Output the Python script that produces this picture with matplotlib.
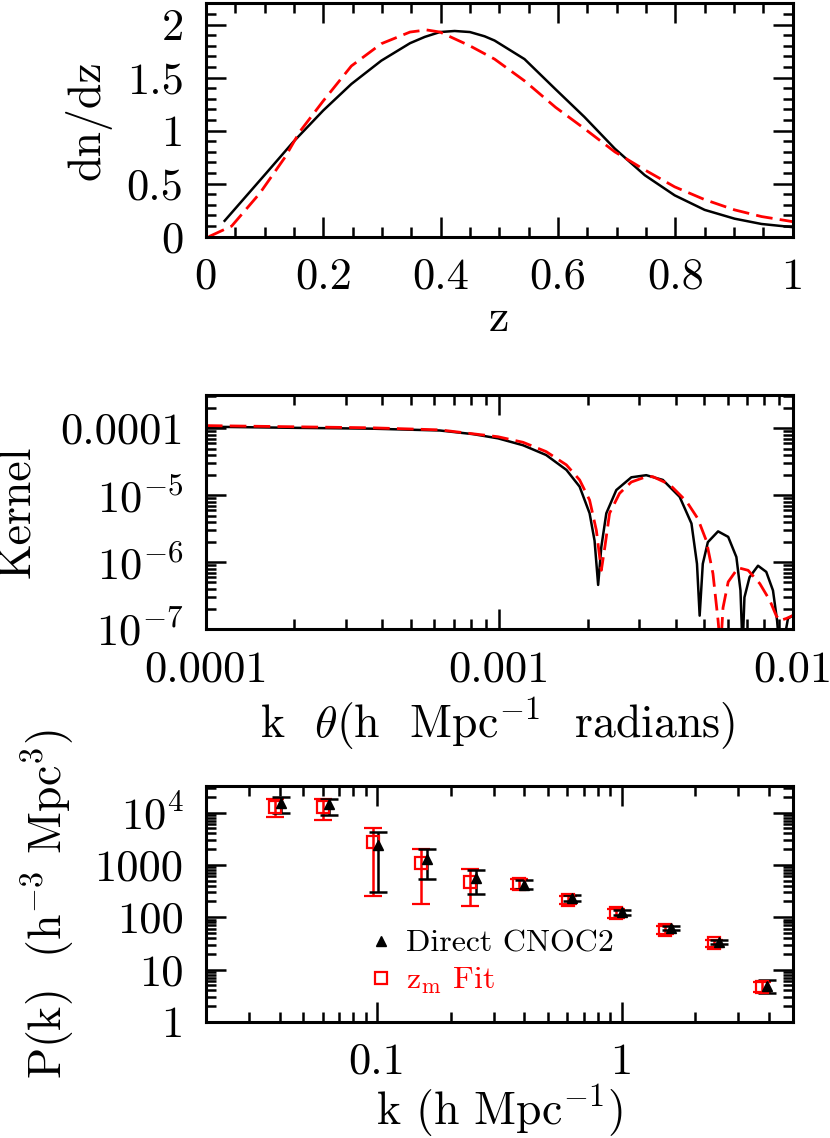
import matplotlib
matplotlib.use("Agg")
import matplotlib.pyplot as plt
from matplotlib.lines import Line2D
from matplotlib.ticker import MultipleLocator, LogLocator, NullFormatter
import numpy as np

plt.rcParams['font.family'] = 'serif'
plt.rcParams['font.serif'] = ['cmr10', 'DejaVu Serif']
plt.rcParams['mathtext.fontset'] = 'cm'
plt.rcParams['axes.unicode_minus'] = False
plt.rcParams['axes.formatter.use_mathtext'] = True

# --- panel 1: redshift distribution
z_solid = [0.032, 0.103, 0.149, 0.2, 0.248, 0.299, 0.348, 0.373, 0.399, 0.424, 0.45,
           0.475, 0.492, 0.543, 0.596, 0.645, 0.697, 0.748, 0.799, 0.85, 0.901, 0.947, 1.0]
dndz_solid = [0.15, 0.60, 0.894, 1.19, 1.44, 1.66, 1.825, 1.884, 1.93, 1.94, 1.93,
              1.89, 1.85, 1.675, 1.39, 1.13, 0.83, 0.58, 0.39, 0.253, 0.17, 0.12, 0.09]
z_dash = [0.005, 0.044, 0.092, 0.135, 0.16, 0.2, 0.248, 0.299, 0.348, 0.376, 0.399,
          0.45, 0.492, 0.543, 0.596, 0.645, 0.697, 0.748, 0.799, 0.85, 0.901, 0.947, 1.0]
dndz_dash = [0.0, 0.1, 0.41, 0.75, 0.99, 1.28, 1.61, 1.82, 1.93, 1.95, 1.93,
             1.8, 1.675, 1.47, 1.22, 1.02, 0.8, 0.63, 0.47, 0.35, 0.253, 0.19, 0.142]

# --- panel 2: kernel
kth_solid = [1.0e-4, 1.96e-4, 3.66e-4, 6.27e-4, 8.15e-4, 9.9e-4, 1.205e-3, 1.445e-3,
             1.694e-3, 1.879e-3, 2.032e-3, 2.113e-3, 2.173e-3, 2.228e-3, 2.317e-3,
             2.506e-3, 2.82e-3, 3.17e-3, 3.61e-3, 4.12e-3, 4.52e-3, 4.72e-3, 4.82e-3,
             4.94e-3, 5.14e-3, 5.57e-3, 6.03e-3, 6.43e-3, 6.64e-3, 6.75e-3, 6.85e-3,
             7.13e-3, 7.62e-3, 8.13e-3, 8.57e-3, 8.85e-3, 9.02e-3, 9.23e-3, 9.64e-3,
             1.0e-2]
kern_solid = [1.06e-4, 1.02e-4, 9.9e-5, 9.3e-5, 8.2e-5, 7.1e-5, 5.6e-5, 4.0e-5,
              2.4e-5, 1.35e-5, 5.4e-6, 2.1e-6, 4.6e-7, 1.7e-6, 5.4e-6,
              1.2e-5, 1.86e-5, 2.0e-5, 1.7e-5, 9.5e-6, 3.8e-6, 9.5e-7, 1.6e-7,
              9.5e-7, 2.0e-6, 2.9e-6, 2.4e-6, 1.2e-6, 3.8e-7, 5e-8, 3.0e-7,
              6.0e-7, 8.9e-7, 7.2e-7, 3.8e-7, 1.35e-7, 5e-8, 5e-8, 1.45e-7,
              1.6e-7]
kth_dash = [1.0e-4, 3.66e-4, 6.27e-4, 9.9e-4, 1.205e-3, 1.445e-3, 1.694e-3, 1.879e-3,
            2.032e-3, 2.143e-3, 2.228e-3, 2.291e-3, 2.377e-3, 2.57e-3, 2.818e-3,
            3.17e-3, 3.34e-3, 3.81e-3, 4.35e-3, 4.75e-3, 5.08e-3, 5.35e-3, 5.57e-3,
            5.68e-3, 5.79e-3, 6.03e-3, 6.52e-3, 7.05e-3, 7.73e-3, 8.36e-3, 8.79e-3,
            9.04e-3, 9.51e-3, 1.0e-2]
kern_dash = [1.10e-4, 1.02e-4, 9.5e-5, 7.5e-5, 6.2e-5, 4.5e-5, 2.85e-5, 1.7e-5,
             8.5e-6, 3.0e-6, 7.6e-7, 1.7e-6, 5.4e-6, 1.07e-5, 1.58e-5,
             1.9e-5, 1.9e-5, 1.45e-5, 8.1e-6, 4.5e-6, 2.1e-6, 6.8e-7, 1.35e-7,
             5e-8, 2.1e-7, 5.1e-7, 8.3e-7, 7.6e-7, 4.8e-7, 2.7e-7, 1.6e-7,
             1.35e-7, 1.45e-7, 1.6e-7]

# --- panel 3: power spectrum
k_direct = [0.0404, 0.0637, 0.101, 0.160, 0.253, 0.401, 0.627, 1.0, 1.585, 2.5, 3.94]
P_direct = [15000, 14600, 2410, 1280, 556, 415, 234, 125, 63.5, 33.3, 4.94]
P_direct_lo = [9700, 9000, 309, 540, 279, 343, 208, 111, 57, 30.5, 3.5]
P_direct_hi = [19600, 18500, 4330, 1990, 801, 517, 267, 138, 69, 36.4, 6.2]

k_fit = [0.0384, 0.0605, 0.096, 0.152, 0.24, 0.382, 0.603, 0.951, 1.51, 2.38, 3.74]
P_fit = [13000, 13000, 2790, 1110, 479, 433, 214, 119, 57.3, 31.9, 4.73]
P_fit_lo = [8150, 7250, 260, 177, 167, 343, 177, 98.6, 47.3, 27.5, 3.8]
P_fit_hi = [18000, 18000, 5170, 1990, 826, 532, 256, 144, 69, 36.9, 5.73]

FS = 33     # axis labels
TFS = 32    # tick labels
DASH = (0, (6, 2.6))

fig = plt.figure(figsize=(8.3, 11.38), dpi=100)
ax1 = fig.add_axes([0.248, 0.792, 0.707, 0.205])
ax2 = fig.add_axes([0.248, 0.447, 0.707, 0.206])
ax3 = fig.add_axes([0.248, 0.102, 0.707, 0.207])

for ax in (ax1, ax2, ax3):
    ax.tick_params(which='both', direction='in', top=True, right=True, width=1.8)
    ax.tick_params(which='major', length=14.4, labelsize=TFS)
    ax.tick_params(which='minor', length=7.2)
    ax.tick_params(axis='x', which='major', pad=15)
    ax.tick_params(axis='y', which='major', pad=16)
    for s in ax.spines.values():
        s.set_linewidth(2.2)

# Panel 1
ax1.plot(z_solid, dndz_solid, color='black', lw=1.8)
ax1.plot(z_dash, dndz_dash, color='red', lw=2.0, ls=DASH)
ax1.set_xlim(0, 1)
ax1.set_ylim(0, 2.2)
ax1.xaxis.set_minor_locator(MultipleLocator(0.05))
ax1.yaxis.set_minor_locator(MultipleLocator(0.1))
ax1.set_xticks([0, 0.2, 0.4, 0.6, 0.8, 1.0], ['0', '0.2', '0.4', '0.6', '0.8', '1'])
ax1.set_yticks([0, 0.5, 1, 1.5, 2], ['0', '0.5', '1', '1.5', '2'])
ax1.set_xlabel('z', fontsize=FS, va='baseline')
ax1.xaxis.set_label_coords(0.5, -0.406)
ax1.set_ylabel('dn/dz', fontsize=FS, va='center')
ax1.yaxis.set_label_coords(-0.201, 0.5)

# Panel 2
ax2.plot(kth_solid, kern_solid, color='black', lw=1.8)
ax2.plot(kth_dash, kern_dash, color='red', lw=2.0, ls=DASH)
ax2.set_xscale('log')
ax2.set_yscale('log')
ax2.set_xlim(1e-4, 1e-2)
ax2.set_ylim(1e-7, 10**-3.5)
ax2.xaxis.set_minor_locator(LogLocator(base=10, subs=range(2, 10), numticks=20))
ax2.yaxis.set_minor_locator(LogLocator(base=10, subs=range(2, 10), numticks=20))
ax2.xaxis.set_minor_formatter(NullFormatter())
ax2.yaxis.set_minor_formatter(NullFormatter())
ax2.set_xticks([1e-4, 1e-3, 1e-2], ['0.0001', '0.001', '0.01'])
ax2.set_yticks([1e-7, 1e-6, 1e-5, 1e-4], [r'$10^{-7}$', r'$10^{-6}$', r'$10^{-5}$', '0.0001'])
ax2.set_xlabel(r'k  $\theta$(h  Mpc$^{-1}$  radians)', fontsize=FS, va='baseline')
ax2.xaxis.set_label_coords(0.497, -0.462)
ax2.set_ylabel('Kernel', fontsize=FS, va='center')
ax2.yaxis.set_label_coords(-0.319, 0.5)

# Panel 3
P_direct = np.array(P_direct)
P_fit = np.array(P_fit)
ax3.errorbar(k_fit, P_fit,
             yerr=[P_fit - np.array(P_fit_lo), np.array(P_fit_hi) - P_fit],
             fmt='s', ms=9, mfc='none', mec='red', mew=1.6, ecolor='red',
             elinewidth=1.8, capsize=6.5, capthick=1.8)
ax3.errorbar(k_direct, P_direct,
             yerr=[P_direct - np.array(P_direct_lo), np.array(P_direct_hi) - P_direct],
             fmt='^', ms=7, color='black', ecolor='black',
             elinewidth=1.8, capsize=6.5, capthick=1.8)
ax3.set_xscale('log')
ax3.set_yscale('log')
ax3.set_xlim(0.02, 5)
ax3.set_ylim(1, 10**4.5)
ax3.xaxis.set_minor_locator(LogLocator(base=10, subs=range(2, 10), numticks=20))
ax3.yaxis.set_minor_locator(LogLocator(base=10, subs=range(2, 10), numticks=20))
ax3.xaxis.set_minor_formatter(NullFormatter())
ax3.yaxis.set_minor_formatter(NullFormatter())
ax3.set_xticks([0.1, 1], ['0.1', '1'])
ax3.set_yticks([1, 10, 100, 1000, 1e4], ['1', '10', '100', '1000', r'$10^4$'])
ax3.set_xlabel(r'k (h Mpc$^{-1}$)', fontsize=FS, va='baseline')
ax3.xaxis.set_label_coords(0.5, -0.436)
ax3.set_ylabel(r'P(k)  (h$^{-3}$ Mpc$^3$)', fontsize=FS, va='center')
ax3.yaxis.set_label_coords(-0.269, 0.5)

handles = [Line2D([], [], marker='^', color='black', ls='none', ms=7),
           Line2D([], [], marker='s', mfc='none', mec='red', mew=1.6, ls='none', ms=9)]
leg = ax3.legend(handles, ['Direct CNOC2', r'z$_{\rm m}$ Fit'], frameon=False,
                 loc='upper left', bbox_to_anchor=(0.282, 0.392), fontsize=23,
                 handlelength=0.6, handletextpad=0.5, labelspacing=0.25,
                 borderpad=0, borderaxespad=0)
leg.get_texts()[1].set_color('red')

fig.savefig('out.png', dpi=100)
